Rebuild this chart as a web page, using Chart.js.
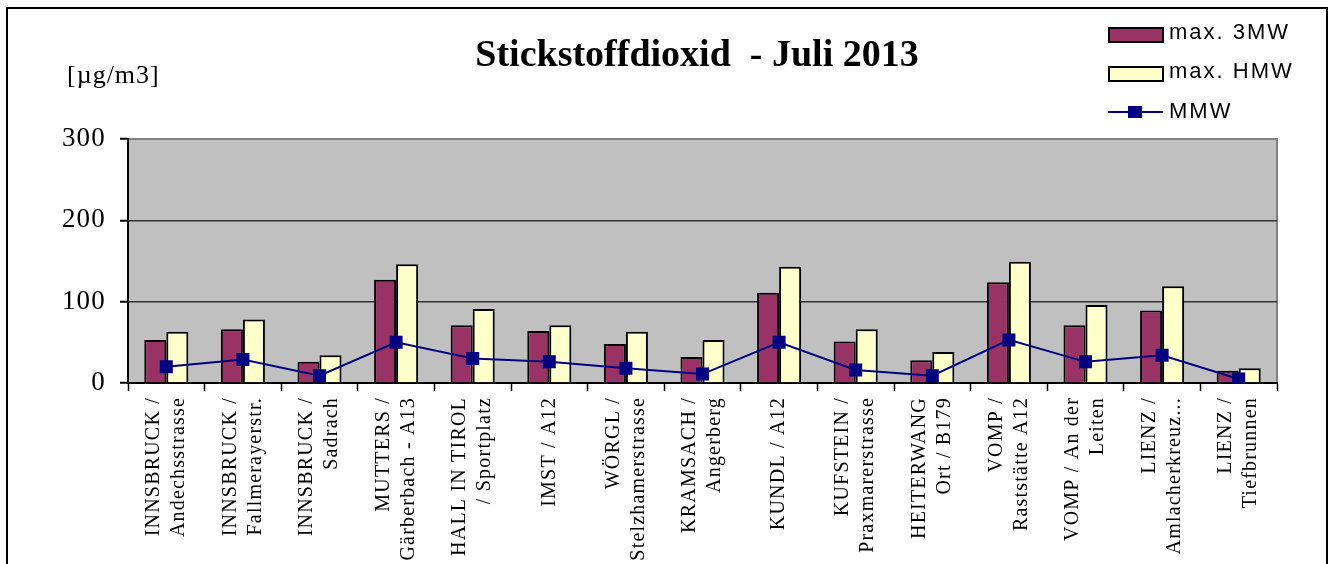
<!DOCTYPE html>
<html>
<head>
<meta charset="utf-8">
<script src="https://cdn.jsdelivr.net/npm/chart.js@4/dist/chart.umd.min.js"></script>
<style>
  body { margin: 0; background: #fff; }
</style>
</head>
<body>
<canvas id="mycanvas" width="1332" height="564"></canvas>
<script>
// station names (two lines each, like the original)
var stations = [
    ["INNSBRUCK /", "Andechsstrasse"],
    ["INNSBRUCK /", "Fallmerayerstr."],
    ["INNSBRUCK /", "Sadrach"],
    ["MUTTERS /", "Gärberbach - A13"],
    ["HALL IN TIROL", "/ Sportplatz"],
    ["IMST / A12"],
    ["WÖRGL /", "Stelzhamerstrasse"],
    ["KRAMSACH /", "Angerberg"],
    ["KUNDL / A12"],
    ["KUFSTEIN /", "Praxmarerstrasse"],
    ["HEITERWANG", "Ort / B179"],
    ["VOMP /", "Raststätte A12"],
    ["VOMP / An der", "Leiten"],
    ["LIENZ /", "Amlacherkreuz..."],
    ["LIENZ /", "Tiefbrunnen"]
];
var max3MW = [53, 66, 26, 127, 71, 64, 48, 32, 111, 51, 28, 124, 71, 89, 15];
var maxHMW = [63, 78, 34, 146, 91, 71, 63, 53, 143, 66, 38, 149, 96, 119, 18];
var mmw    = [20, 29, 9, 50, 30, 26, 18, 11, 50, 16, 9, 53, 26, 34, 5];
var yTicks = [0, 100, 200, 300];

var serif = "'Liberation Serif', 'Times New Roman', serif";
var sans = "'Liberation Sans', Arial, sans-serif";

var decor = {
    id: 'decor',
    beforeDraw: function(chart) {
        var ctx = chart.ctx, a = chart.chartArea;
        ctx.save();
        ctx.fillStyle = '#fff';
        ctx.fillRect(0, 0, chart.width, chart.height);
        ctx.fillStyle = '#C0C0C0';
        ctx.fillRect(a.left, a.top, a.right - a.left, a.bottom - a.top);
        ctx.strokeStyle = '#808080';
        ctx.lineWidth = 2;
        ctx.beginPath();
        ctx.moveTo(a.left, a.top);
        ctx.lineTo(a.right, a.top);
        ctx.lineTo(a.right, a.bottom);
        ctx.stroke();
        ctx.restore();
        // the original's labels are a bit wider spaced
        ctx.letterSpacing = '1.2px';
    },
    afterDraw: function(chart) {
        var ctx = chart.ctx;
        ctx.letterSpacing = '0px';
        ctx.save();
        // outer frame
        ctx.strokeStyle = '#000';
        ctx.lineWidth = 2;
        ctx.beginPath();
        ctx.moveTo(7, 564);
        ctx.lineTo(7, 8);
        ctx.lineTo(1327, 8);
        ctx.lineTo(1327, 564);
        ctx.stroke();

        // title
        ctx.fillStyle = '#000';
        ctx.textAlign = 'center';
        ctx.textBaseline = 'alphabetic';
        ctx.font = 'bold 38px ' + serif;
        ctx.fillText('Stickstoffdioxid  - Juli 2013', 697, 66);

        // unit
        ctx.textAlign = 'left';
        ctx.font = '26px ' + serif;
        ctx.letterSpacing = '1px';
        ctx.fillText('[µg/m3]', 67, 83);

        // legend
        ctx.font = '22px ' + sans;
        ctx.letterSpacing = '2px';
        var ys = [35, 74, 112];
        chart.data.datasets.forEach(function(ds, i) {
            var y = ys[i];
            if (ds.type === 'line') {
                ctx.strokeStyle = ds.borderColor;
                ctx.lineWidth = 2;
                ctx.beginPath();
                ctx.moveTo(1108, y);
                ctx.lineTo(1163, y);
                ctx.stroke();
                ctx.fillStyle = ds.backgroundColor;
                ctx.fillRect(1128, y - 6, 14, 12);
            } else {
                ctx.fillStyle = ds.backgroundColor;
                ctx.fillRect(1109, y - 7, 54, 14);
                ctx.strokeStyle = '#000';
                ctx.lineWidth = 2;
                ctx.strokeRect(1109, y - 7, 54, 14);
            }
            ctx.fillStyle = '#000';
            ctx.fillText(ds.label, 1169, y + (ds.type === 'line' ? 6 : 4));
        });
        ctx.restore();
    }
};

var ctx = document.getElementById('mycanvas');
var chart = new Chart(ctx, {
    type: 'bar',
    data: {
        labels: stations,
        datasets: [{
            label: 'max. 3MW',
            data: max3MW,
            backgroundColor: '#993366',
            borderColor: '#000',
            borderWidth: 2,
            order: 2
        }, {
            label: 'max. HMW',
            data: maxHMW,
            backgroundColor: '#FFFFCC',
            borderColor: '#000',
            borderWidth: 2,
            order: 2
        }, {
            type: 'line',
            label: 'MMW',
            data: mmw,
            borderColor: '#000080',
            backgroundColor: '#000080',
            borderWidth: 2,
            pointStyle: 'rect',
            pointRadius: 9.2,
            pointBorderWidth: 0,
            order: 0
        }]
    },
    options: {
        responsive: false,
        animation: false,
        layout: { padding: { top: 139, left: 10, right: 55, bottom: 0 } },
        datasets: {
            bar: { categoryPercentage: 0.575, barPercentage: 1.0 }
        },
        plugins: {
            legend: { display: false },
            title: { display: false },
            tooltip: { enabled: false }
        },
        scales: {
            x: {
                offset: true,
                grid: {
                    offset: true,
                    drawOnChartArea: false,
                    drawTicks: true,
                    tickLength: 8,
                    tickColor: '#000',
                    tickWidth: 1.5
                },
                border: { color: '#000', width: 2 },
                ticks: {
                    minRotation: 90,
                    maxRotation: 90,
                    autoSkip: false,
                    padding: 6,
                    color: '#000',
                    font: { family: serif, size: 20, lineHeight: 1.25 }
                },
                afterFit: function(scale) { scale.height = 181; },
                // centre two-line labels on their tick (chart.js puts the first line there)
                afterUpdate: function(scale) {
                    if (scale._wrapped) return;
                    scale._wrapped = true;
                    var orig = scale._computeLabelItems;
                    scale._computeLabelItems = function(area) {
                        var items = orig.call(this, area);
                        items.forEach(function(it) {
                            if (Array.isArray(it.label) && it.label.length > 1) {
                                it.options.translation[0] -= 12.5;
                            }
                        });
                        return items;
                    };
                }
            },
            y: {
                min: 0,
                max: 300,
                afterBuildTicks: function(scale) {
                    scale.ticks = yTicks.map(function(v) { return { value: v }; });
                },
                grid: {
                    color: function(c) { return c.tick.value === 300 ? '#808080' : '#333'; },
                    lineWidth: 1.5,
                    tickLength: 8,
                    tickColor: '#000',
                    tickWidth: 2
                },
                border: { color: '#000', width: 2 },
                ticks: {
                    padding: 14,
                    color: '#000',
                    font: { family: serif, size: 27 }
                },
                afterFit: function(scale) { scale.width = 118; }
            }
        }
    },
    plugins: [decor]
});
</script>
</body>
</html>
